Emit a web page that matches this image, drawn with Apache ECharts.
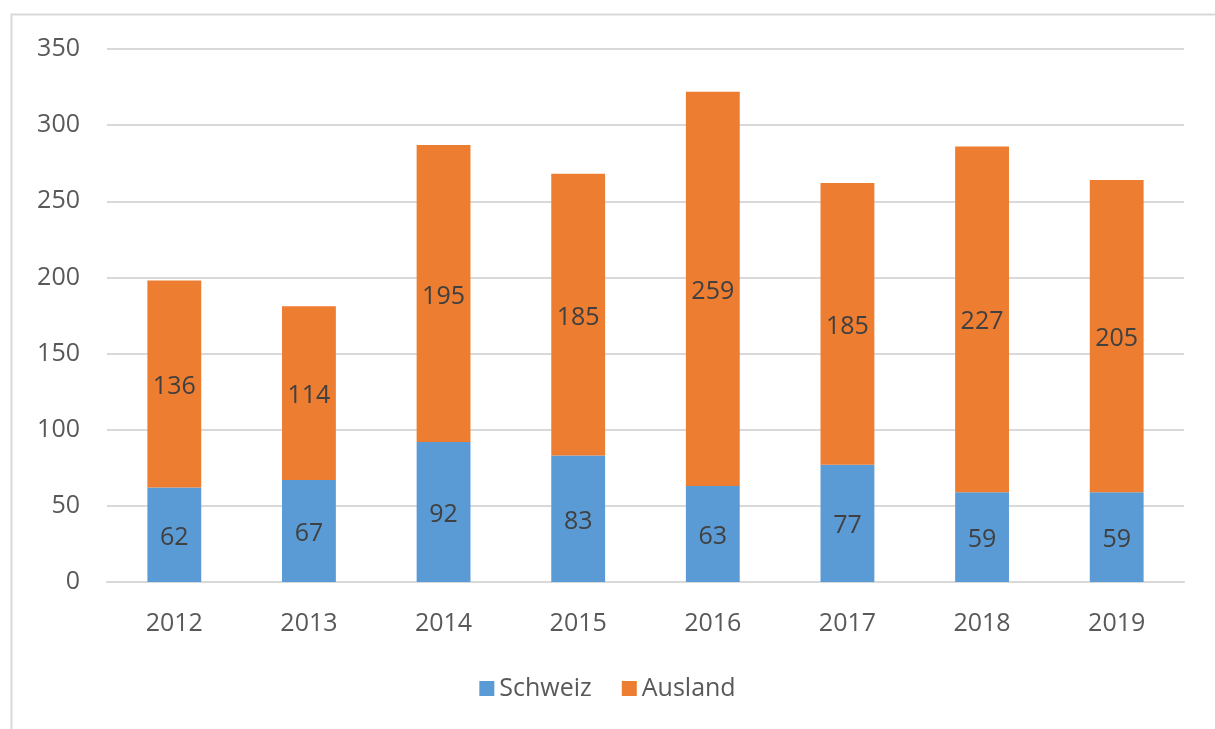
<!DOCTYPE html>
<html><head><meta charset="utf-8">
<script src="https://cdn.jsdelivr.net/npm/echarts@6/dist/echarts.min.js"></script>
<style>html,body{margin:0;padding:0;background:#fff}#c{width:1215px;height:729px}</style>
</head><body><div id="c"></div>
<script>
const years = ['2012','2013','2014','2015','2016','2017','2018','2019'];
const schweiz = [62, 67, 92, 83, 63, 77, 59, 59];
const ausland = [136, 114, 195, 185, 259, 185, 227, 205];
const yTicks = [0, 50, 100, 150, 200, 250, 300, 350];
const FONT = '"Open Sans", sans-serif';
const FS = 25;
const chart = echarts.init(document.getElementById('c'));
const lbl = {show: true, position: 'inside', color: '#404040', fontSize: FS, fontFamily: FONT, offset: [0, 3]};
chart.setOption({
  animation: false,
  graphic: [{type: 'rect', left: 9, top: 12, shape: {width: 1230, height: 740},
    style: {fill: 'none', stroke: '#d9d9d9', lineWidth: 2}}],
  grid: {left: 107, right: 31, top: 49, bottom: 147},
  legend: {top: 671, left: 'center', itemWidth: 15, itemHeight: 15, itemGap: 30,
    icon: 'rect', textStyle: {color: '#595959', fontSize: FS, fontFamily: FONT}},
  xAxis: {type: 'category', data: years,
    axisLine: {lineStyle: {color: '#d9d9d9', width: 2}}, axisTick: {show: false},
    axisLabel: {color: '#595959', fontSize: FS, fontFamily: FONT, margin: 29}},
  yAxis: {type: 'value', min: yTicks[0], max: yTicks[yTicks.length-1], interval: 50,
    axisLine: {show: false}, axisTick: {show: false},
    splitLine: {lineStyle: {color: '#d9d9d9', width: 2}},
    axisLabel: {color: '#595959', fontSize: FS, fontFamily: FONT, margin: 27}},
  series: [
    {name: 'Schweiz', type: 'bar', stack: 's', data: schweiz, barWidth: '40%',
      itemStyle: {color: '#5b9bd5'}, label: lbl},
    {name: 'Ausland', type: 'bar', stack: 's', data: ausland, barWidth: '40%',
      itemStyle: {color: '#ed7d31'}, label: lbl}
  ]
});
</script></body></html>
